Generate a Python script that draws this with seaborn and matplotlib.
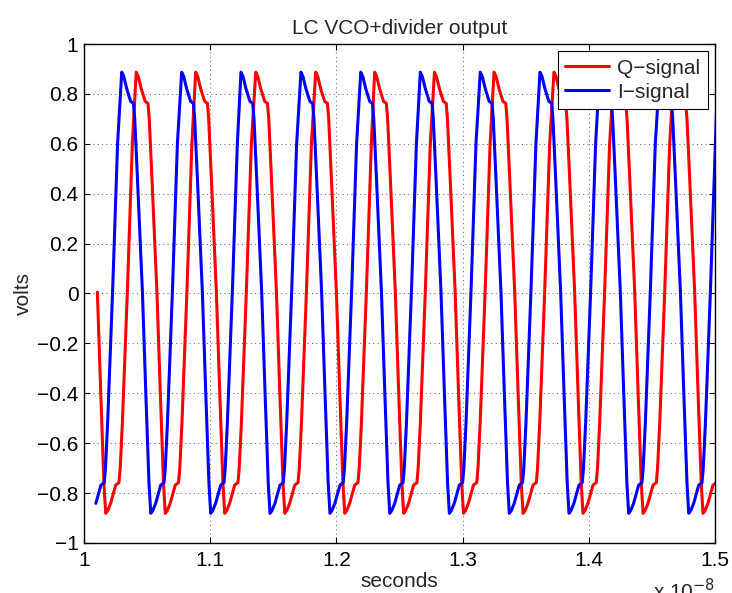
#!/usr/bin/env python3

from matplotlib import pyplot as plt
from matplotlib.ticker import FuncFormatter, MultipleLocator
import pandas as pd
import seaborn as sns

# one period of the waveform: offset from peak (ps), volts
shape_ps = [0, 16, 40, 71, 93, 103, 124, 164, 190, 216, 230, 246, 269,
            309, 335, 345, 362, 402, 441]
shape_v = [0.887, 0.87, 0.82, 0.77, 0.762, 0.70, 0.466, 0.005, -0.387,
           -0.761, -0.881, -0.87, -0.841, -0.768, -0.758, -0.70, -0.52,
           0.014, 0.6]

# peak times of each signal (x 1e-8 s)
q_peaks = [0.9942, 1.0414, 1.0885, 1.1361, 1.1836, 1.2303, 1.2777, 1.3249,
           1.3724, 1.4200, 1.4675, 1.5151]
i_peaks = [0.9825, 1.0299, 1.0774, 1.1244, 1.1719, 1.2193, 1.2665, 1.3140,
           1.3613, 1.4086, 1.4562, 1.5022]

t_start = 1.0091
labels = ["Q\u2212signal", "I\u2212signal"]


def build(peaks, label):
    t, v = [], []
    for p in peaks:
        for o, y in zip(shape_ps, shape_v):
            t.append(p + o * 1e-4)
            v.append(y)
    df = pd.DataFrame({"t": t, "v": v})
    df = df.loc[df["t"] >= t_start].copy()
    df["signal"] = label
    return df


def fmt(v, pos):
    v = round(v, 3)
    if v == 0:
        return "0"
    return f"{v:g}".replace("-", "\u2212")


def main():
    df = pd.concat([build(q_peaks, labels[0]), build(i_peaks, labels[1])])

    sns.set_style("ticks")
    plt.rcParams["font.family"] = ["Liberation Sans", "DejaVu Sans"]

    fig = plt.figure(figsize=(7.32, 5.93), dpi=100)
    ax = fig.add_axes([84 / 732, 1 - 543 / 593, 631 / 732, 499 / 593])

    sns.lineplot(data=df, x="t", y="v", hue="signal", hue_order=labels,
                 palette={labels[0]: "#ff0000", labels[1]: "#0000ff"},
                 estimator=None, sort=False, lw=2.2, ax=ax)

    ax.set_xlim(1.0, 1.5)
    ax.set_ylim(-1, 1)
    ax.xaxis.set_major_locator(MultipleLocator(0.1))
    ax.yaxis.set_major_locator(MultipleLocator(0.2))
    ax.xaxis.set_major_formatter(FuncFormatter(fmt))
    ax.yaxis.set_major_formatter(FuncFormatter(fmt))
    ax.tick_params(direction="in", length=4, width=0.8, top=True, right=True,
                   labelsize=15, colors="k", pad=4)
    ax.tick_params(axis="x", pad=6)
    for s in ax.spines.values():
        s.set_color("k")
        s.set_linewidth(1)
    ax.grid(True, color="0.35", linestyle=(0, (1, 3.5)), linewidth=0.7)

    ax.set_title("LC VCO+divider output", fontsize=15, pad=7)
    ax.set_xlabel("seconds", fontsize=15, labelpad=1)
    ax.set_ylabel("volts", fontsize=15, labelpad=3)

    h, l = ax.get_legend_handles_labels()
    ax.legend(h, l, loc="upper right", fontsize=15, frameon=True,
              fancybox=False, edgecolor="k", framealpha=1, handlelength=2.1,
              borderaxespad=0.35, borderpad=0.35, labelspacing=0.25,
              handletextpad=0.4)
    ax.get_legend().get_frame().set_linewidth(0.8)

    fig.text(715 / 732, 1 - 599 / 593, "x 10$^{\u22128}$", ha="right",
             va="baseline", fontsize=15)

    fig.savefig("out.png", dpi=100)


if __name__ == "__main__":
    main()
